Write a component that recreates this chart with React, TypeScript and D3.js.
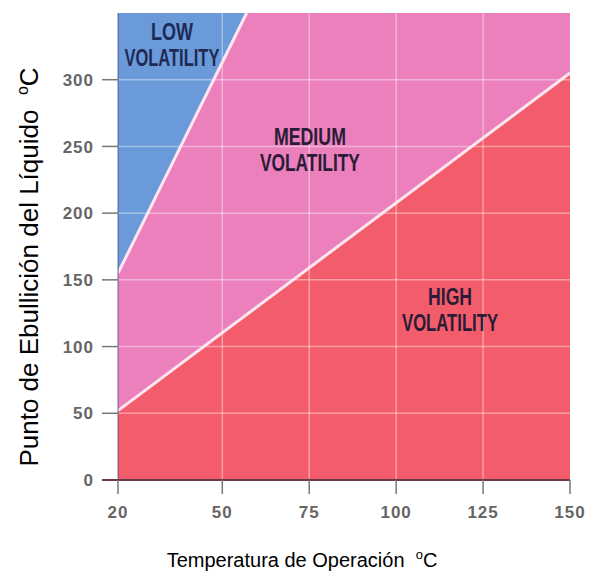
import React, { useEffect, useRef } from 'react';
import * as d3 from 'd3';

interface Pt {
  x: number;
  y: number;
}

// axis values
const xTicks = [20, 50, 75, 100, 125, 150];
const yTicks = [0, 50, 100, 150, 200, 250, 300];
const xDomain: [number, number] = [20, 150];
const yDomain: [number, number] = [0, 350];

// boundary lines between the zones
const highMediumLine: Pt[] = [
  { x: 20, y: 52 },
  { x: 150, y: 305 }
];
const mediumLowLine: Pt[] = [
  { x: 20, y: 155 },
  { x: 57, y: 350 }
];

// zone labels
const zoneNames = ['LOW', 'MEDIUM', 'HIGH'];
const zoneColors = ['#6a9ad9', '#eb80bd', '#f35d6b'];

const xTitle = 'Temperatura de Operación  ';
const yTitle = 'Punto de Ebullición del Líquido  ';

const App: React.FC = () => {
  const svgRef = useRef<SVGSVGElement>(null);
  const width = 591;
  const height = 574;

  useEffect(() => {
    if (!svgRef.current) return;
    const svg = d3.select(svgRef.current);
    svg.selectAll('*').remove();

    const x = d3.scaleLinear().domain(xDomain).range([118, 570]);
    const y = d3.scaleLinear().domain(yDomain).range([480, 13]);

    const [x0, x1] = xDomain;
    const [y0, y1] = yDomain;
    const hm = highMediumLine;
    const ml = mediumLowLine;

    const zones: Pt[][] = [
      // low
      [ml[0], ml[1], { x: x0, y: y1 }],
      // medium
      [hm[0], hm[1], { x: x1, y: y1 }, ml[1], ml[0]],
      // high
      [{ x: x0, y: y0 }, { x: x1, y: y0 }, hm[1], hm[0]]
    ];

    const line = d3.line<Pt>().x(d => x(d.x)).y(d => y(d.y));

    svg.append('g')
      .selectAll('path')
      .data(zones)
      .enter()
      .append('path')
      .attr('d', d => line(d) + 'Z')
      .attr('fill', (d, i) => zoneColors[i]);

    // grid
    const grid = svg.append('g')
      .attr('stroke', '#ffffff')
      .attr('stroke-opacity', 0.4)
      .attr('stroke-width', 1.5);
    grid.selectAll('line.v')
      .data(xTicks.slice(1, -1))
      .enter()
      .append('line')
      .attr('x1', d => x(d))
      .attr('x2', d => x(d))
      .attr('y1', y(y0))
      .attr('y2', y(y1));
    grid.selectAll('line.h')
      .data(yTicks.slice(1))
      .enter()
      .append('line')
      .attr('x1', x(x0))
      .attr('x2', x(x1))
      .attr('y1', d => y(d))
      .attr('y2', d => y(d));

    // boundary lines
    [highMediumLine, mediumLowLine].forEach(b => {
      svg.append('path')
        .attr('d', line(b))
        .attr('stroke', '#fde6f0')
        .attr('stroke-width', 3)
        .attr('fill', 'none');
    });

    // axis edges
    svg.append('line')
      .attr('x1', x(x0)).attr('x2', x(x0))
      .attr('y1', y(y0)).attr('y2', y(y1))
      .attr('stroke', '#3a4a7a')
      .attr('stroke-opacity', 0.5)
      .attr('stroke-width', 1.5);
    svg.append('line')
      .attr('x1', x(x0) - 16).attr('x2', x(x1))
      .attr('y1', y(y0)).attr('y2', y(y0))
      .attr('stroke', '#6b3a48')
      .attr('stroke-width', 2);

    // ticks
    const tickColor = '#777';
    svg.append('g')
      .selectAll('line')
      .data(yTicks.slice(1))
      .enter()
      .append('line')
      .attr('x1', x(x0) - 16)
      .attr('x2', x(x0))
      .attr('y1', d => y(d))
      .attr('y2', d => y(d))
      .attr('stroke', tickColor)
      .attr('stroke-width', 1.5);
    svg.append('g')
      .selectAll('line')
      .data(xTicks)
      .enter()
      .append('line')
      .attr('x1', d => x(d))
      .attr('x2', d => x(d))
      .attr('y1', y(y0))
      .attr('y2', y(y0) + 14)
      .attr('stroke', tickColor)
      .attr('stroke-width', 1.5);

    const tickFont = (sel: d3.Selection<SVGTextElement, number, SVGGElement, unknown>) =>
      sel.style('font-family', 'Liberation Sans, Arial, sans-serif')
        .style('font-size', '17px')
        .style('font-weight', 'bold')
        .style('letter-spacing', '1px')
        .attr('fill', '#666');

    svg.append('g')
      .selectAll('text')
      .data(yTicks)
      .enter()
      .append('text')
      .attr('x', 94)
      .attr('y', d => y(d))
      .attr('dy', '0.36em')
      .attr('text-anchor', 'end')
      .text(d => d)
      .call(tickFont);

    svg.append('g')
      .selectAll('text')
      .data(xTicks)
      .enter()
      .append('text')
      .attr('x', d => x(d))
      .attr('y', 518)
      .attr('text-anchor', 'middle')
      .text(d => d)
      .call(tickFont);

    // zone labels
    const labelSpots = [
      { x: 35.5, y: 330, w1: 42, w2: 95 },
      { x: 75.2, y: 251, w1: 72, w2: 100 },
      { x: 115.5, y: 131, w1: 44, w2: 96 }
    ];
    zoneNames.forEach((name, i) => {
      const s = labelSpots[i];
      const t = svg.append('text')
        .attr('text-anchor', 'middle')
        .style('font-family', 'Liberation Sans, Arial, sans-serif')
        .style('font-size', '23px')
        .style('font-weight', 'bold')
        .attr('fill', i === 0 ? '#1e2a55' : '#2a1c36');
      t.append('tspan')
        .attr('x', x(s.x))
        .attr('y', y(s.y))
        .attr('textLength', s.w1)
        .attr('lengthAdjust', 'spacingAndGlyphs')
        .text(name);
      t.append('tspan')
        .attr('x', x(s.x))
        .attr('y', y(s.y) + 26)
        .attr('textLength', s.w2)
        .attr('lengthAdjust', 'spacingAndGlyphs')
        .text('VOLATILITY');
    });

    // axis titles
    const titleFont = 'Liberation Sans, Arial, sans-serif';
    const xt = svg.append('text')
      .attr('x', 302)
      .attr('y', 567)
      .attr('text-anchor', 'middle')
      .style('font-family', titleFont)
      .style('font-size', '20px')
      .style('white-space', 'pre')
      .attr('fill', '#000');
    xt.append('tspan').text(xTitle);
    xt.append('tspan').attr('dy', -8).style('font-size', '13px').text('o');
    xt.append('tspan').attr('dy', 8).text('C');

    const yt = svg.append('text')
      .attr('transform', 'translate(38,267) rotate(-90)')
      .attr('text-anchor', 'middle')
      .style('font-family', titleFont)
      .style('font-size', '26px')
      .style('white-space', 'pre')
      .attr('fill', '#000');
    yt.append('tspan').text(yTitle);
    yt.append('tspan').attr('dy', -10).style('font-size', '16px').text('o');
    yt.append('tspan').attr('dy', 10).text('C');
  }, []);

  return (
    <svg
      ref={svgRef}
      width={width}
      height={height}
      style={{ position: 'absolute', left: 0, top: 0, background: '#fff' }}
    />
  );
};

export default App;
